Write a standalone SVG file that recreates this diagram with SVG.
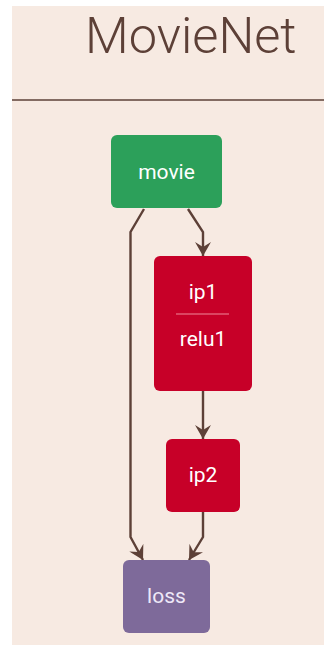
<svg xmlns="http://www.w3.org/2000/svg" width="324" height="645" viewBox="0 0 324 645">
  <style>
    .title { font-family: Roboto, "Liberation Sans", sans-serif; font-weight: 300; font-size: 50.5px; fill: #5d4037; }
    .lbl { font-family: Roboto, "Liberation Sans", sans-serif; font-size: 21px; fill: #ffffff; text-anchor: middle; dominant-baseline: central; }
    .edge { fill: none; stroke: #5d4037; stroke-width: 2.4; }
  </style>
  <defs>
    <marker id="vee" viewBox="0 0 14 16" refX="14" refY="8" markerWidth="14" markerHeight="16" markerUnits="userSpaceOnUse" orient="auto">
      <path d="M0,0 L14,8 L0,16 L5,8 z" fill="#5d4037"/>
    </marker>
  </defs>

  <!-- canvas -->
  <rect x="12" y="6" width="312" height="639" fill="#f7eae2"/>
  <text class="title" x="85" y="53">MovieNet</text>
  <line x1="12" y1="100" x2="324" y2="100" stroke="#5d4037" stroke-width="1.5"/>

  <!-- connectors -->
  <g id="edges">
    <path class="edge" d="M188,209 L203,232 L203,256" marker-end="url(#vee)"/>
    <path class="edge" d="M144,209 L130.5,232 L130.5,537 L143,560" marker-end="url(#vee)"/>
    <path class="edge" d="M203,391 L203,439" marker-end="url(#vee)"/>
    <path class="edge" d="M203,512 L203,537 L189,560" marker-end="url(#vee)"/>
  </g>

  <g id="movie">
    <rect x="111" y="135" width="111" height="73" rx="6" fill="#2ca05a"/>
    <text class="lbl" x="166.5" y="172">movie</text>
  </g>

  <g id="ip1">
    <rect x="154" y="256" width="98" height="135" rx="6" fill="#c70028"/>
    <text class="lbl" x="203" y="292">ip1</text>
    <line x1="176" y1="314" x2="229" y2="314" stroke="#ef8a9a" stroke-width="1.2"/>
    <text class="lbl" x="203" y="339">relu1</text>
  </g>

  <g id="ip2">
    <rect x="166" y="439" width="74" height="73" rx="6" fill="#c70028"/>
    <text class="lbl" x="203" y="475">ip2</text>
  </g>

  <g id="loss">
    <rect x="123" y="560" width="87" height="73" rx="6" fill="#7e6a9a"/>
    <text class="lbl" x="166.5" y="596" style="fill:#eee8f8">loss</text>
  </g>
</svg>
